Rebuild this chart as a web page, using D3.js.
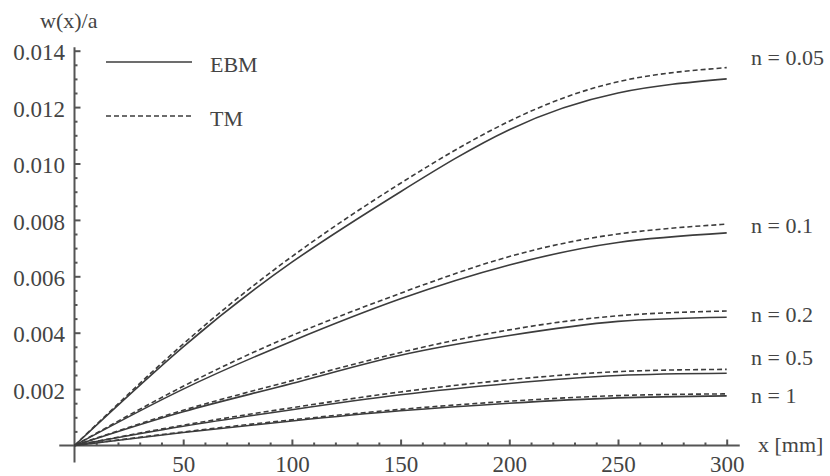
<!DOCTYPE html>
<html>
<head>
<meta charset="utf-8">
<script src="https://cdn.jsdelivr.net/npm/d3@7"></script>
<style>
  body { margin: 0; background: #fff; }
</style>
</head>
<body>
<div id="chart"></div>
<script>
var xs = [0, 50, 100, 150, 200, 250, 300];
var nLabels = ["n = 0.05", "n = 0.1", "n = 0.2", "n = 0.5", "n = 1"];
var ebm005 = [0, 0.0035, 0.0065, 0.0090, 0.0112, 0.0125, 0.0130];
var tm005  = [0, 0.0036, 0.0067, 0.0093, 0.0115, 0.0129, 0.0134];
var ebm01  = [0, 0.0020, 0.0037, 0.0052, 0.0064, 0.0072, 0.00754];
var tm01   = [0, 0.0021, 0.0039, 0.0054, 0.0067, 0.0075, 0.00785];
var ebm02  = [0, 0.0012, 0.0022, 0.0032, 0.0039, 0.0044, 0.00455];
var tm02   = [0, 0.00125, 0.0023, 0.0033, 0.0041, 0.0046, 0.00477];
var ebm05  = [0, 0.00068, 0.00127, 0.0018, 0.0022, 0.00248, 0.00256];
var tm05   = [0, 0.00072, 0.00134, 0.0019, 0.00233, 0.00262, 0.0027];
var ebm1   = [0, 0.00046, 0.00087, 0.00123, 0.0015, 0.00169, 0.00176];
var tm1    = [0, 0.00048, 0.00091, 0.00128, 0.00157, 0.00177, 0.00183];
var xTicks = [50, 100, 150, 200, 250, 300];
var yTicks = [0.002, 0.004, 0.006, 0.008, 0.010, 0.012, 0.014];

var ebmSeries = [ebm005, ebm01, ebm02, ebm05, ebm1];
var tmSeries = [tm005, tm01, tm02, tm05, tm1];

var width = 830, height = 476;
var ink = "#444";
var serif = "Liberation Serif";

var svg = d3.select("#chart").append("svg")
  .attr("width", width)
  .attr("height", height)
  .attr("font-family", serif);

var x = d3.scaleLinear().domain([0, 300]).range([74.5, 726.7]);
var y = d3.scaleLinear().domain([0, 0.014]).range([445.5, 50.7]);

// axis lines extend a little past the data range, Mathematica style
svg.append("line")
  .attr("x1", x(-7)).attr("x2", x(306))
  .attr("y1", y(0)).attr("y2", y(0))
  .attr("stroke", "#555").attr("stroke-width", 2);
svg.append("line")
  .attr("x1", x(0)).attr("x2", x(0))
  .attr("y1", y(0.01412)).attr("y2", y(-0.0006))
  .attr("stroke", "#555").attr("stroke-width", 2);

// ticks (inward), minor + major
var xMinor = d3.range(10, 301, 10).filter(function(v) { return v % 50 !== 0; });
var yMinor = d3.range(1, 29).map(function(i) { return i * 0.0005; })
  .filter(function(v) { return Math.round(v * 10000) % 20 !== 0; });

var xAxisMajor = d3.axisBottom(x).tickValues(xTicks).tickSize(-6).tickPadding(0)
  .tickFormat(d3.format("d"));
var gx = svg.append("g").attr("transform", "translate(0," + y(0) + ")").call(xAxisMajor);
var gxm = svg.append("g").attr("transform", "translate(0," + y(0) + ")")
  .call(d3.axisBottom(x).tickValues(xMinor).tickSize(-3).tickFormat(""));

var yAxisMajor = d3.axisRight(y).tickValues(yTicks).tickSize(6)
  .tickFormat(d3.format(".3f"));
var gy = svg.append("g").attr("transform", "translate(" + x(0) + ",0)").call(yAxisMajor);
var gym = svg.append("g").attr("transform", "translate(" + x(0) + ",0)")
  .call(d3.axisRight(y).tickValues(yMinor).tickSize(3).tickFormat(""));

[gx, gxm, gy, gym].forEach(function(g) {
  g.attr("font-family", serif);
  g.select(".domain").remove();
  g.selectAll(".tick line").attr("stroke", "#555").attr("stroke-width", 2);
});
gx.selectAll(".tick text")
  .attr("y", 26.5).attr("dy", 0)
  .attr("font-size", 23).attr("fill", ink);
gy.selectAll(".tick text")
  .attr("x", -9.5).attr("dy", "0.4em").attr("text-anchor", "end")
  .attr("font-size", 23).attr("fill", ink);

var line = d3.line()
  .x(function(d, i) { return x(xs[i]); })
  .y(function(d) { return y(d); })
  .curve(d3.curveNatural);

svg.append("g").selectAll("path.ebm")
  .data(ebmSeries).enter().append("path")
  .attr("class", "ebm")
  .attr("d", line)
  .attr("fill", "none").attr("stroke", "#3c3c3c").attr("stroke-width", 1.6);

svg.append("g").selectAll("path.tm")
  .data(tmSeries).enter().append("path")
  .attr("class", "tm")
  .attr("d", line)
  .attr("fill", "none").attr("stroke", "#3c3c3c").attr("stroke-width", 1.6)
  .attr("stroke-dasharray", "5,3");

// curve labels at the right
var labelY = [65, 233, 322, 365, 403];
svg.append("g").selectAll("text")
  .data(nLabels).enter().append("text")
  .attr("x", 751).attr("y", function(d, i) { return labelY[i]; })
  .attr("font-size", 22).attr("fill", ink)
  .text(function(d) { return d; });

// axis titles
svg.append("text").attr("x", 40).attr("y", 28).attr("font-size", 22).attr("fill", ink).text("w(x)/a");
svg.append("text").attr("x", 758).attr("y", 452).attr("font-size", 22).attr("fill", ink).text("x [mm]");

// legend
svg.append("line").attr("x1", 106).attr("x2", 192).attr("y1", 62).attr("y2", 62)
  .attr("stroke", "#3c3c3c").attr("stroke-width", 1.6);
svg.append("text").attr("x", 210).attr("y", 72).attr("font-size", 22).attr("fill", ink).text("EBM");
svg.append("line").attr("x1", 106).attr("x2", 192).attr("y1", 116).attr("y2", 116)
  .attr("stroke", "#3c3c3c").attr("stroke-width", 1.6).attr("stroke-dasharray", "5,3");
svg.append("text").attr("x", 210).attr("y", 126).attr("font-size", 22).attr("fill", ink).text("TM");
</script>
</body>
</html>
